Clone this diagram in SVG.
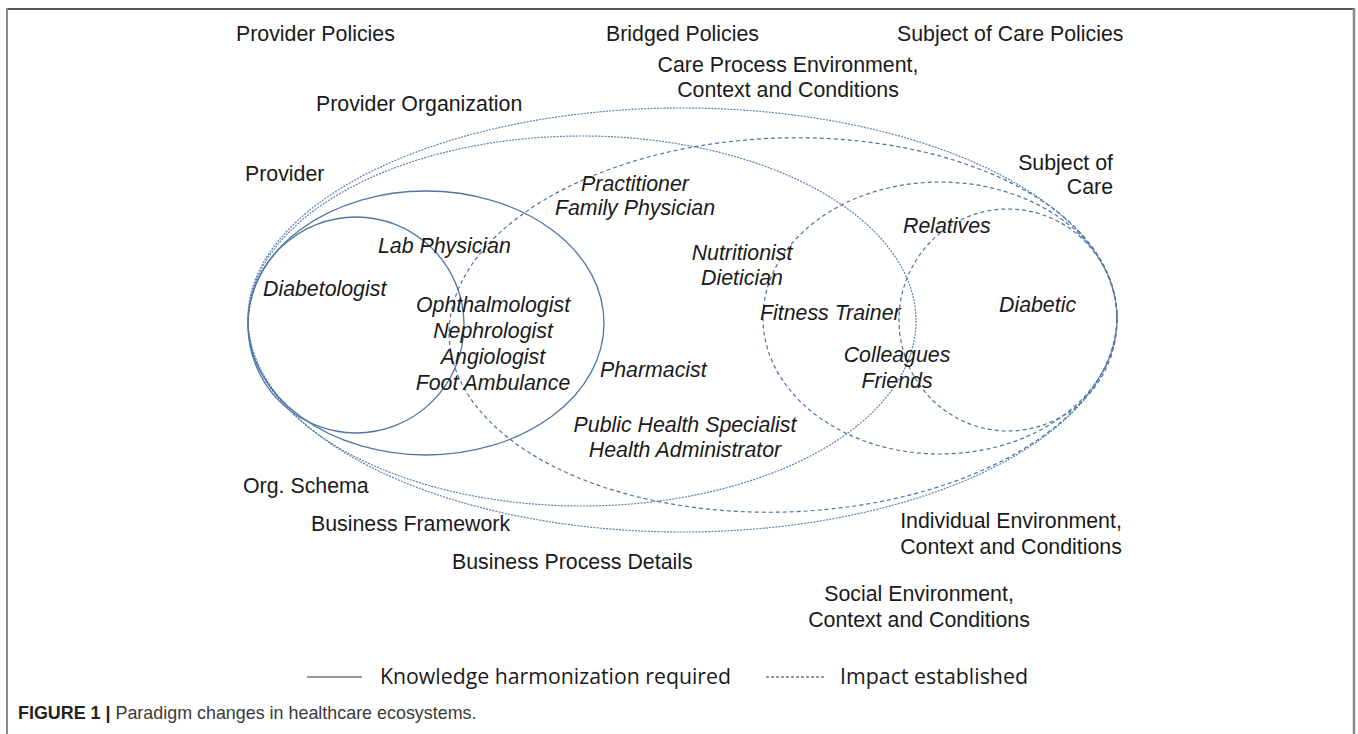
<svg xmlns="http://www.w3.org/2000/svg" width="1358" height="734" viewBox="0 0 1358 734">
<style>
.t{font-family:"Liberation Sans",Arial,sans-serif;font-size:21.33px;fill:#1a1a1a}
.i{font-style:italic}
.m{text-anchor:middle}
.e{text-anchor:end}
.solid{fill:none;stroke:#4f76a3;stroke-width:1.3}
.dot{fill:none;stroke:#5b82b0;stroke-width:1.2;stroke-dasharray:2 1.2}
.dash{fill:none;stroke:#4d73a0;stroke-width:1.2;stroke-dasharray:4 3}
.leg{font-family:"Open Sans","Noto Sans",sans-serif;font-size:21px;fill:#1a1a1a}
.cap{font-family:"Liberation Sans",Arial,sans-serif;font-size:17.9px;fill:#3a3a3a}
</style>
<rect x="0" y="0" width="1358" height="734" fill="#ffffff"/>
<g id="frame" fill="none">
<line x1="7" y1="9" x2="1354" y2="9" stroke="#555" stroke-width="2"/>
<line x1="7" y1="8" x2="7" y2="734" stroke="#888" stroke-width="2"/>
<line x1="1354" y1="8" x2="1354" y2="734" stroke="#888" stroke-width="2.5"/>
</g>
<g id="connectors">
<path id="outer" class="dot" d="M 248 318 A 434.5 210 0 0 1 1117 318 A 434.5 214 0 0 1 248 318 Z"/>
<ellipse id="provider-org" class="dot" cx="582" cy="321" rx="334" ry="185"/>
<ellipse id="bridged" class="dash" cx="783" cy="325" rx="334" ry="187" transform="rotate(-2 783 325)"/>
<ellipse id="provider" class="solid" cx="426" cy="323" rx="178" ry="132"/>
<ellipse id="diabetologist" class="solid" cx="356" cy="325" rx="108" ry="108"/>
<ellipse id="subject" class="dash" cx="940" cy="318" rx="177" ry="136"/>
<ellipse id="diabetic" class="dash" cx="1008" cy="320" rx="109" ry="111"/>
</g>
<g id="policies">
<text class="t" x="236" y="41">Provider Policies</text>
<text class="t" x="606" y="41">Bridged Policies</text>
<text class="t" x="897" y="41">Subject of Care Policies</text>
</g>
<g id="care-process">
<text class="t m" x="788" y="72">Care Process Environment,</text>
<text class="t m" x="788" y="97">Context and Conditions</text>
</g>
<g id="provider-organization"><text class="t" x="316" y="111">Provider Organization</text></g>
<g id="provider-label"><text class="t" x="245" y="181">Provider</text></g>
<g id="subject-of-care"><text class="t e" x="1113" y="170">Subject of</text><text class="t e" x="1113" y="194">Care</text></g>
<g id="practitioner"><text class="t i m" x="635" y="191">Practitioner</text><text class="t i m" x="635" y="215">Family Physician</text></g>
<g id="lab"><text class="t i" x="378" y="253">Lab Physician</text></g>
<g id="relatives"><text class="t i" x="903" y="233">Relatives</text></g>
<g id="nutritionist"><text class="t i m" x="742" y="260">Nutritionist</text><text class="t i m" x="742" y="285">Dietician</text></g>
<g id="diabetologist-label"><text class="t i" x="263" y="296">Diabetologist</text></g>
<g id="specialists">
<text class="t i m" x="493" y="312">Ophthalmologist</text>
<text class="t i m" x="493" y="338">Nephrologist</text>
<text class="t i m" x="493" y="364">Angiologist</text>
<text class="t i m" x="493" y="390">Foot Ambulance</text>
</g>
<g id="diabetic-label"><text class="t i" x="999" y="312">Diabetic</text></g>
<g id="fitness"><text class="t i" x="760" y="320">Fitness Trainer</text></g>
<g id="colleagues"><text class="t i m" x="897" y="362">Colleagues</text><text class="t i m" x="897" y="388">Friends</text></g>
<g id="pharmacist"><text class="t i" x="600" y="377">Pharmacist</text></g>
<g id="public-health"><text class="t i m" x="685" y="432">Public Health Specialist</text><text class="t i m" x="685" y="457">Health Administrator</text></g>
<g id="org-schema"><text class="t" x="243" y="493">Org. Schema</text></g>
<g id="business-framework"><text class="t" x="311" y="531">Business Framework</text></g>
<g id="individual"><text class="t m" x="1011" y="528">Individual Environment,</text><text class="t m" x="1011" y="554">Context and Conditions</text></g>
<g id="business-process"><text class="t" x="452" y="569">Business Process Details</text></g>
<g id="social"><text class="t m" x="919" y="601">Social Environment,</text><text class="t m" x="919" y="627">Context and Conditions</text></g>
<g id="legend">
<line x1="307" y1="677" x2="362" y2="677" stroke="#333" stroke-width="1.2"/>
<text class="leg" x="380" y="684" textLength="351" lengthAdjust="spacingAndGlyphs">Knowledge harmonization required</text>
<line x1="766" y1="677" x2="826" y2="677" stroke="#333" stroke-width="1.2" stroke-dasharray="3 2"/>
<text class="leg" x="840" y="684" textLength="188" lengthAdjust="spacingAndGlyphs">Impact established</text>
</g>
<g id="caption">
<text class="cap" x="18" y="719"><tspan font-weight="bold" fill="#222">FIGURE 1 | </tspan>Paradigm changes in healthcare ecosystems.</text>
</g>
</svg>
